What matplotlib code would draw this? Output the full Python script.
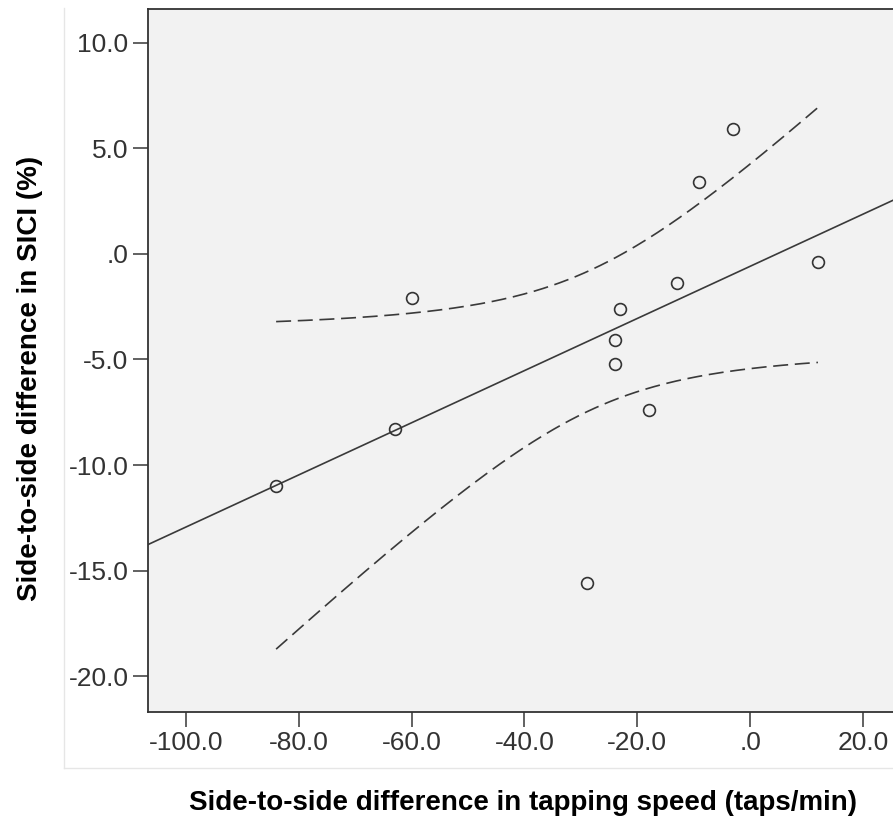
import numpy as np
import matplotlib.pyplot as plt
from matplotlib.lines import Line2D

plt.rcParams['font.family'] = ['Liberation Sans', 'DejaVu Sans']

# data
tap_diff = [-84, -63, -60, -29, -24, -24, -23, -18, -13, -9, -3, 12]
sici_diff = [-11.0, -8.3, -2.1, -15.6, -4.1, -5.2, -2.6, -7.4, -1.4, 3.4, 5.9, -0.4]

xticks = [-100, -80, -60, -40, -20, 0, 20]
xtick_labels = ['-100.0', '-80.0', '-60.0', '-40.0', '-20.0', '.0', '20.0']
yticks = [10, 5, 0, -5, -10, -15, -20]
ytick_labels = ['10.0', '5.0', '.0', '-5.0', '-10.0', '-15.0', '-20.0']

x = np.array(tap_diff, dtype=float)
y = np.array(sici_diff, dtype=float)
n = len(x)

# linear fit + 95% CI of the mean
slope, icpt = np.polyfit(x, y, 1)
resid = y - (slope * x + icpt)
s = np.sqrt(np.sum(resid ** 2) / (n - 2))
t_crit = 2.228  # t(0.975, df=10)
sxx = np.sum((x - x.mean()) ** 2)

fig = plt.figure(figsize=(8.93, 8.21), dpi=100)
ax = fig.add_axes([148 / 893, 1 - 712 / 821, 1 - 148 / 893, (712 - 9) / 821])
ax.set_facecolor('#f2f2f2')

xlim = (-106.7, 25.3)
ylim = (-21.7, 11.6)

xf = np.linspace(xlim[0], xlim[1], 200)
ax.plot(xf, slope * xf + icpt, color='#3a3a3a', lw=1.2)

xc = np.linspace(x.min(), x.max(), 200)
yc = slope * xc + icpt
hw = t_crit * s * np.sqrt(1 / n + (xc - x.mean()) ** 2 / sxx)
ax.plot(xc, yc + hw, color='#3a3a3a', lw=1.2, dashes=(9, 4))
ax.plot(xc, yc - hw, color='#3a3a3a', lw=1.2, dashes=(9, 4))

ax.plot(x, y, 'o', ms=8.5, mfc='none', mec='#333333', mew=1.2)

ax.set_xlim(*xlim)
ax.set_ylim(*ylim)
ax.set_xticks(xticks)
ax.set_xticklabels(xtick_labels)
ax.set_yticks(yticks)
ax.set_yticklabels(ytick_labels)
ax.tick_params(direction='out', length=11, width=1.3, color='#555555',
               labelsize=19, labelcolor='#333333', pad=3)

for side in ['left', 'bottom', 'top']:
    ax.spines[side].set_color('#333333')
    ax.spines[side].set_linewidth(1.3)
ax.spines['right'].set_visible(False)

fig.text(30 / 893, 1 - 378 / 821, 'Side-to-side difference in SICI (%)',
         rotation=90, ha='center', va='center', fontsize=20, fontweight='bold')
fig.text(523 / 893, 1 - 803 / 821, 'Side-to-side difference in tapping speed (taps/min)',
         ha='center', va='center', fontsize=20, fontweight='bold')

# faint outer chart frame
fig.add_artist(Line2D([64 / 893, 64 / 893], [1 - 8 / 821, 1 - 768 / 821],
                      transform=fig.transFigure, color='#e6e6e6', lw=1))
fig.add_artist(Line2D([64 / 893, 1], [1 - 768 / 821, 1 - 768 / 821],
                      transform=fig.transFigure, color='#e6e6e6', lw=1))

fig.savefig('out.png', dpi=100)
